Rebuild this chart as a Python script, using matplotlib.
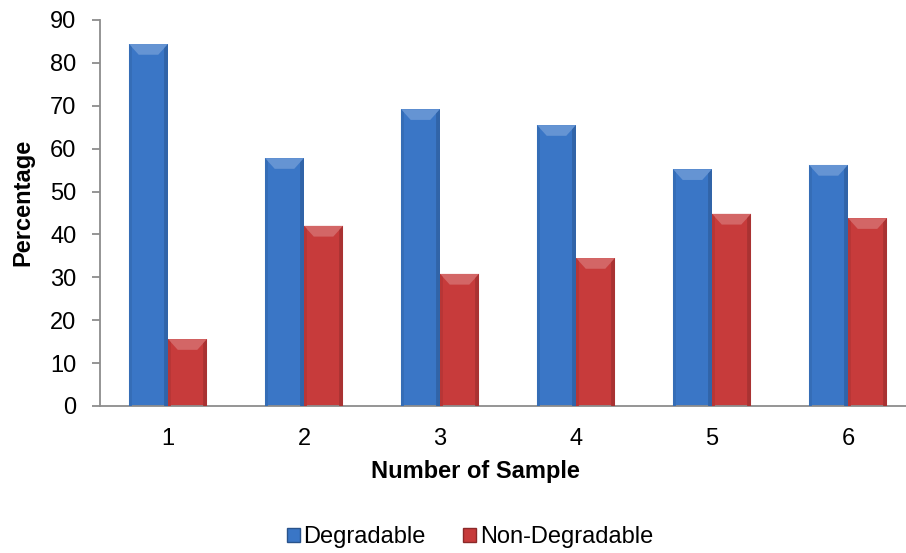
import numpy as np
import matplotlib.pyplot as plt
from matplotlib.patches import Polygon, Patch
import matplotlib.colors as mcolors

plt.rcParams['font.family'] = ['Liberation Sans', 'DejaVu Sans']

samples = ["1", "2", "3", "4", "5", "6"]
degradable = [84.4, 57.8, 69.2, 65.5, 55.2, 56.2]
non_degradable = [15.6, 42.0, 30.8, 34.5, 44.8, 43.8]

blue = "#3a76c6"
red = "#c73b3b"


def shade(c, f):
    r, g, b = mcolors.to_rgb(c)
    if f > 0:
        return (r + (1 - r) * f, g + (1 - g) * f, b + (1 - b) * f)
    return (r * (1 + f), g * (1 + f), b * (1 + f))


def bevel(ax, bars, color):
    # lighter bevel on top, darker strips down the sides
    for b in bars:
        x0, w, h = b.get_x(), b.get_width(), b.get_height()
        d = w * 0.25
        dy = 2.5
        ax.add_patch(Polygon([(x0, h), (x0 + w, h), (x0 + w - d, h - dy), (x0 + d, h - dy)],
                             closed=True, facecolor=shade(color, 0.22), edgecolor="none", zorder=3))
        ax.add_patch(Polygon([(x0 + w - d * 0.4, h - dy * 0.4), (x0 + w, h), (x0 + w, 0), (x0 + w - d * 0.4, 0)],
                             closed=True, facecolor=shade(color, -0.15), edgecolor="none", zorder=3))
        ax.add_patch(Polygon([(x0, h), (x0 + d * 0.3, h - dy * 0.3), (x0 + d * 0.3, 0), (x0, 0)],
                             closed=True, facecolor=shade(color, -0.08), edgecolor="none", zorder=3))


fig = plt.figure(figsize=(9.06, 5.53), dpi=100)
ax = fig.add_axes([100 / 906, (553 - 406) / 553, 816 / 906, 386 / 553])

x = np.arange(1, len(samples) + 1)
w = 0.287
b1 = ax.bar(x - w / 2, degradable, w, color=blue, zorder=2, label="Degradable")
b2 = ax.bar(x + w / 2, non_degradable, w, color=red, zorder=2, label="Non-Degradable")
bevel(ax, b1, blue)
bevel(ax, b2, red)

ax.set_xlim(0.5, 6.5)
ax.set_ylim(0, 90)
ax.set_yticks(range(0, 91, 10))
ax.set_xticks(x)
ax.set_xticklabels(samples)

for s in ["top", "right"]:
    ax.spines[s].set_visible(False)
for s in ["left", "bottom"]:
    ax.spines[s].set_color("#8c8c8c")
    ax.spines[s].set_linewidth(1.3)
ax.tick_params(axis="y", length=6, color="#8c8c8c", width=1.3, labelsize=17, pad=11)
ax.tick_params(axis="x", length=0, labelsize=17, pad=16)

ax.set_ylabel("Percentage", fontsize=17, fontweight="bold")
ax.yaxis.set_label_coords(-0.081, 0.528)
ax.set_xlabel("Number of Sample", fontsize=17, fontweight="bold")
ax.xaxis.set_label_coords(0.46, -0.14)

handles = [Patch(facecolor=blue, edgecolor=shade(blue, -0.3), label="Degradable"),
           Patch(facecolor=red, edgecolor=shade(red, -0.3), label="Non-Degradable")]
fig.legend(handles=handles, loc="center", bbox_to_anchor=(470 / 906, 1 - 537 / 553),
           ncol=2, frameon=False, fontsize=17, handlelength=0.55, handleheight=0.55,
           handletextpad=0.15, columnspacing=1.6)

fig.savefig("out.png", dpi=100)
